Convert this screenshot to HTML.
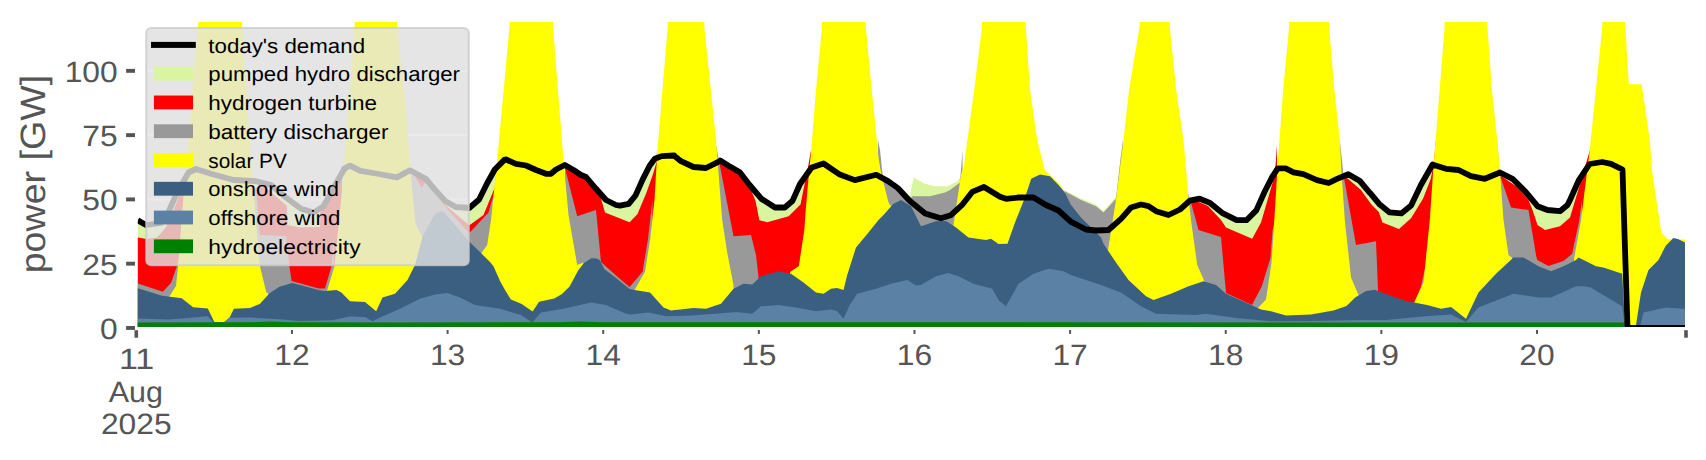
<!DOCTYPE html><html><head><meta charset="utf-8"><style>html,body{margin:0;padding:0;background:#fff;width:1706px;height:460px;overflow:hidden}svg{display:block}text{text-rendering:geometricPrecision}</style></head><body><svg width="1706" height="460" viewBox="0 0 1706 460"><rect x="0" y="0" width="1706" height="460" fill="#ffffff"/><defs><clipPath id="ax"><rect x="137.8" y="21.9" width="1547.2" height="305.1"/></clipPath></defs><rect x="146.2" y="28.1" width="322.6" height="237.1" rx="5" ry="5" fill="#e5e5e5"/><rect x="146.2" y="69.75" width="322.6" height="2.2" fill="#ffffff"/><rect x="146.2" y="133.80" width="322.6" height="2.2" fill="#ffffff"/><rect x="146.2" y="198.30" width="322.6" height="2.2" fill="#ffffff"/><rect x="146.2" y="262.60" width="322.6" height="2.2" fill="#ffffff"/><g clip-path="url(#ax)"><path d="M137.8,340 L137.8,220.4 L146.0,225.0 L161.0,223.0 L168.0,213.0 L176.0,195.0 L188.5,172.5 L196.0,169.0 L211.0,173.8 L233.5,180.0 L256.0,181.2 L271.0,185.0 L286.0,197.5 L301.0,208.8 L313.4,212.6 L323.8,206.1 L334.3,186.5 L344.7,168.3 L350.0,165.7 L360.4,170.9 L376.0,173.5 L396.9,177.4 L410.0,170.3 L426.1,179.1 L434.8,189.6 L445.2,200.9 L455.7,207.0 L469.3,208.0 L479.1,199.5 L487.0,183.5 L494.8,169.5 L504.6,159.6 L506.0,159.5 L516.0,163.8 L526.0,165.5 L536.0,170.0 L546.0,173.8 L551.0,173.8 L556.0,169.5 L564.8,165.0 L573.5,170.0 L581.0,175.0 L586.0,177.0 L596.0,188.8 L606.0,200.0 L616.0,205.0 L620.0,205.7 L628.7,203.9 L635.7,195.2 L642.6,179.6 L649.6,165.7 L654.8,158.7 L661.7,156.1 L674.2,155.5 L674.8,156.2 L681.0,161.2 L693.5,167.0 L706.0,168.0 L719.8,161.2 L720.2,160.5 L728.1,165.4 L739.8,172.3 L749.6,185.0 L761.3,198.7 L775.0,207.5 L784.8,207.5 L792.6,200.7 L800.0,184.0 L811.7,167.4 L823.5,163.5 L839.1,174.2 L854.8,180.1 L876.3,174.8 L888.0,181.1 L897.8,188.0 L909.6,200.7 L925.2,213.4 L940.9,218.3 L950.7,215.3 L962.4,204.6 L972.2,191.9 L984.0,187.0 L1000.0,196.7 L1006.0,198.8 L1018.5,197.5 L1033.5,197.5 L1046.0,205.0 L1058.5,210.5 L1071.0,221.8 L1086.0,229.5 L1096.0,230.5 L1108.5,230.0 L1121.0,218.8 L1131.0,207.5 L1141.0,204.5 L1148.5,206.2 L1156.0,211.2 L1168.5,215.0 L1180.0,209.5 L1189.8,200.7 L1199.6,198.7 L1209.4,202.6 L1223.0,213.4 L1236.7,220.2 L1246.5,220.2 L1256.3,210.4 L1264.1,192.8 L1272.0,177.2 L1277.8,168.4 L1285.7,168.4 L1293.5,172.3 L1303.3,174.2 L1317.0,180.1 L1328.7,183.0 L1336.5,179.1 L1348.3,174.2 L1360.0,181.1 L1369.8,192.8 L1370.0,192.8 L1379.8,204.6 L1389.6,212.4 L1401.3,213.4 L1411.1,205.6 L1420.9,185.0 L1432.6,164.5 L1433.8,165.0 L1446.0,168.8 L1458.5,170.0 L1471.0,176.2 L1484.8,178.8 L1500.0,172.5 L1512.5,178.8 L1525.0,191.2 L1537.5,206.2 L1547.5,210.0 L1560.0,211.2 L1567.5,205.0 L1570.0,200.0 L1578.7,180.4 L1589.6,164.0 L1602.2,162.0 L1611.0,163.8 L1622.5,169.5 L1624.0,327.0 L1624.0,340 Z" fill="#d9f59f"/><path d="M905.0,340 L905.0,205.0 L910.0,195.0 L913.8,177.5 L925.0,183.8 L935.0,186.2 L947.5,186.2 L957.5,181.2 L962.5,173.8 L963.0,150.0 L963.0,340 Z" fill="#d9f59f"/><path d="M1064.0,340 L1064.0,190.0 L1081.0,198.5 L1096.0,204.8 L1103.5,211.0 L1116.0,197.0 L1121.0,154.0 L1121.0,340 Z" fill="#d9f59f"/><path d="M136.0,340 L136.0,237.0 L146.4,239.0 L156.9,237.4 L165.6,227.8 L173.4,210.4 L177.7,200.0 L182.0,180.0 L184.8,175.0 L184.8,340 Z" fill="#ff0000"/><path d="M255.0,340 L255.0,190.0 L260.0,183.0 L272.0,193.0 L287.0,206.0 L287.5,225.0 L300.0,227.5 L320.0,227.0 L320.5,205.0 L330.0,190.0 L340.0,172.0 L342.0,165.0 L342.0,340 Z" fill="#ff0000"/><path d="M408.0,340 L408.0,160.0 L410.4,175.7 L414.8,175.7 L426.1,180.9 L434.8,192.0 L445.2,204.9 L468.6,224.7 L469.8,225.0 L483.5,215.0 L494.8,187.5 L497.2,165.0 L497.2,340 Z" fill="#ff0000"/><path d="M565.0,340 L565.0,168.0 L590.0,180.0 L600.0,195.0 L605.0,212.5 L629.6,222.2 L637.4,214.3 L646.1,193.5 L653.0,174.3 L656.5,162.2 L657.0,150.0 L657.0,340 Z" fill="#ff0000"/><path d="M719.8,340 L719.8,162.0 L741.0,176.0 L751.0,190.0 L755.5,200.7 L759.4,220.2 L767.2,222.2 L788.7,216.3 L800.5,204.6 L808.3,165.4 L811.0,150.0 L811.0,340 Z" fill="#ff0000"/><path d="M1186.0,340 L1186.0,200.0 L1188.5,197.5 L1208.0,206.0 L1221.0,220.0 L1226.0,227.5 L1252.2,238.8 L1261.0,222.5 L1274.8,175.0 L1277.0,145.0 L1277.0,340 Z" fill="#ff0000"/><path d="M1343.5,340 L1343.5,175.0 L1361.0,190.0 L1371.0,204.0 L1378.8,212.0 L1382.5,222.5 L1399.0,229.0 L1411.0,218.3 L1423.0,198.7 L1430.7,179.1 L1433.5,165.0 L1436.0,140.0 L1436.0,340 Z" fill="#ff0000"/><path d="M1499.8,340 L1499.8,175.0 L1518.5,188.0 L1528.5,200.0 L1532.5,210.0 L1537.5,225.0 L1545.0,230.0 L1560.0,226.2 L1570.0,217.5 L1577.5,192.5 L1584.0,170.0 L1590.0,150.0 L1590.0,340 Z" fill="#ff0000"/><path d="M136.0,340 L136.0,283.0 L162.9,291.7 L171.1,282.7 L176.8,266.4 L184.5,235.0 L186.0,185.0 L186.0,340 Z" fill="#999999"/><path d="M252.0,340 L252.0,185.0 L256.3,192.5 L260.0,235.0 L286.3,236.3 L289.2,265.0 L291.6,281.1 L318.5,288.4 L325.0,288.5 L331.6,266.0 L334.0,240.0 L334.0,340 Z" fill="#999999"/><path d="M408.0,340 L408.0,160.0 L410.4,175.7 L414.8,175.7 L421.7,187.8 L426.1,180.9 L434.8,192.0 L445.2,206.4 L468.6,232.5 L469.8,232.5 L488.5,212.5 L495.0,190.0 L495.0,340 Z" fill="#999999"/><path d="M565.0,340 L565.0,168.0 L577.2,216.2 L596.0,210.0 L601.0,262.0 L616.0,275.5 L626.0,284.0 L629.6,287.0 L642.6,271.7 L648.0,239.0 L652.4,200.0 L652.4,340 Z" fill="#999999"/><path d="M716.0,340 L716.0,145.0 L719.8,165.0 L733.5,236.2 L751.0,235.0 L756.0,255.0 L758.5,277.0 L758.5,340 Z" fill="#999999"/><path d="M878.0,340 L878.0,140.0 L880.0,150.0 L883.0,178.0 L897.5,189.0 L910.0,199.0 L912.5,196.2 L930.0,196.2 L945.0,192.5 L950.0,190.0 L960.0,182.5 L962.5,150.0 L962.5,340 Z" fill="#999999"/><path d="M1058.0,340 L1058.0,185.0 L1064.8,191.2 L1081.0,200.0 L1096.0,206.2 L1103.5,212.5 L1116.0,198.8 L1121.0,155.0 L1123.0,140.0 L1123.0,340 Z" fill="#999999"/><path d="M1187.0,340 L1187.0,190.0 L1191.0,202.5 L1198.5,230.0 L1218.5,236.2 L1221.0,237.0 L1226.0,293.0 L1252.0,305.0 L1261.7,286.5 L1270.4,258.3 L1272.6,230.0 L1275.0,220.0 L1275.0,340 Z" fill="#999999"/><path d="M1339.8,340 L1339.8,140.0 L1343.5,175.0 L1356.0,245.0 L1376.0,241.2 L1378.0,289.0 L1378.0,340 Z" fill="#999999"/><path d="M1415.0,340 L1415.0,300.7 L1420.4,288.7 L1425.9,264.8 L1427.4,243.0 L1427.4,340 Z" fill="#999999"/><path d="M1497.2,340 L1497.2,140.0 L1499.8,175.0 L1511.0,207.5 L1528.5,210.0 L1536.0,255.0 L1537.2,260.0 L1548.5,266.0 L1563.5,261.0 L1572.0,254.0 L1579.0,222.0 L1582.0,200.0 L1582.0,340 Z" fill="#999999"/><path d="M169.4,340 L169.4,296.6 L176.0,286.0 L178.1,266.4 L184.7,180.0 L198.0,27.0 L199.0,15.0 L242.0,15.0 L242.3,27.0 L252.6,180.0 L259.8,265.6 L266.3,292.5 L268.0,293.0 L268.0,340 Z" fill="#ffff00"/><path d="M327.0,340 L327.0,291.0 L334.5,265.7 L343.0,180.0 L354.6,27.0 L355.0,15.0 L397.0,15.0 L397.0,27.0 L407.0,120.0 L409.0,150.0 L410.5,172.6 L415.5,224.0 L422.3,236.5 L422.3,340 Z" fill="#ffff00"/><path d="M481.0,340 L481.0,253.8 L487.2,245.0 L491.0,220.0 L497.3,159.0 L509.5,27.0 L509.5,15.0 L553.0,15.0 L553.0,27.0 L563.4,159.0 L568.5,215.0 L577.2,265.0 L583.5,262.5 L583.5,340 Z" fill="#ffff00"/><path d="M634.0,340 L634.0,291.0 L645.0,271.7 L650.2,239.0 L654.5,200.0 L657.3,152.0 L667.7,27.0 L667.7,15.0 L704.3,15.0 L704.3,27.0 L716.0,140.0 L722.2,220.0 L727.2,252.5 L733.5,285.0 L733.5,340 Z" fill="#ffff00"/><path d="M790.0,340 L790.0,272.0 L798.9,265.9 L804.3,230.0 L805.5,212.5 L808.8,175.0 L811.2,150.0 L816.1,89.6 L822.0,27.0 L822.0,15.0 L865.8,15.0 L865.8,27.0 L871.7,89.6 L878.7,159.0 L881.0,172.5 L888.5,202.5 L893.5,210.0 L893.5,340 Z" fill="#ffff00"/><path d="M953.0,340 L953.0,228.0 L961.0,175.0 L963.9,166.0 L974.3,89.6 L982.0,27.0 L982.0,15.0 L1025.8,15.0 L1025.8,27.0 L1030.0,89.6 L1037.2,140.0 L1044.8,170.0 L1058.5,183.0 L1065.0,192.0 L1065.0,340 Z" fill="#ffff00"/><path d="M1108.0,340 L1108.0,250.0 L1116.0,200.0 L1123.5,140.0 L1129.1,89.6 L1139.6,27.0 L1139.6,15.0 L1169.8,15.0 L1169.8,27.0 L1176.1,89.6 L1183.5,140.0 L1188.5,197.5 L1191.0,220.0 L1197.2,265.0 L1204.8,282.0 L1204.8,340 Z" fill="#ffff00"/><path d="M1256.0,340 L1256.0,310.0 L1266.0,299.6 L1271.5,262.6 L1273.7,230.0 L1278.0,160.0 L1283.2,89.6 L1289.1,27.0 L1289.1,15.0 L1329.1,15.0 L1329.1,27.0 L1334.3,89.6 L1339.8,140.0 L1341.5,172.0 L1344.8,220.0 L1351.0,277.5 L1358.5,295.0 L1358.5,340 Z" fill="#ffff00"/><path d="M1414.0,340 L1414.0,303.0 L1423.5,282.5 L1429.8,220.0 L1433.5,166.0 L1439.7,89.6 L1444.6,27.0 L1444.6,15.0 L1487.4,15.0 L1487.4,27.0 L1491.9,89.6 L1497.2,140.0 L1500.0,172.0 L1503.5,220.0 L1508.5,255.0 L1512.2,258.0 L1512.2,340 Z" fill="#ffff00"/><path d="M1574.0,340 L1574.0,259.0 L1581.0,220.0 L1589.5,152.2 L1602.3,27.0 L1602.3,15.0 L1625.3,15.0 L1625.3,27.0 L1628.8,84.3 L1641.6,84.3 L1649.8,140.0 L1652.2,172.5 L1659.8,222.5 L1661.3,232.6 L1667.8,239.5 L1700.0,239.5 L1700.0,340 Z" fill="#ffff00"/><path d="M136.0,340 L136.0,287.6 L162.1,295.8 L181.7,298.2 L193.1,307.2 L207.8,308.5 L214.3,321.9 L227.4,321.9 L233.9,308.8 L250.0,308.0 L259.8,304.0 L269.6,293.3 L279.4,286.8 L292.4,283.0 L303.8,286.0 L318.5,290.0 L325.0,290.9 L336.5,290.0 L341.4,292.5 L350.0,301.2 L365.0,302.0 L376.2,311.2 L382.5,297.5 L395.0,293.8 L407.5,280.0 L415.0,265.0 L422.6,236.5 L434.8,213.9 L441.7,211.3 L445.0,213.3 L468.6,241.0 L481.5,253.6 L490.0,262.0 L493.5,266.2 L500.0,281.0 L505.0,290.0 L510.9,299.6 L521.7,303.9 L532.6,311.5 L539.1,301.7 L554.3,298.5 L562.0,294.0 L569.6,286.5 L578.3,270.2 L584.0,263.0 L591.3,258.3 L597.0,258.5 L600.0,260.4 L604.3,269.1 L616.0,278.0 L629.6,289.0 L636.0,290.2 L650.0,292.5 L663.5,307.5 L671.0,310.5 L693.5,308.0 L706.0,308.8 L721.0,303.8 L733.5,288.8 L743.5,283.8 L752.2,284.5 L761.0,276.2 L778.5,271.2 L791.0,273.8 L803.5,282.5 L816.0,292.5 L823.5,293.8 L831.0,288.8 L837.0,288.0 L843.5,290.0 L847.2,275.0 L856.0,247.5 L868.5,232.5 L878.5,220.0 L883.5,215.0 L893.5,203.8 L901.0,200.0 L911.0,206.2 L921.0,226.2 L936.0,221.2 L946.0,221.0 L956.0,227.5 L968.5,237.5 L986.0,240.0 L991.0,238.8 L998.5,244.0 L1007.5,243.8 L1015.0,222.5 L1025.0,197.5 L1031.2,178.8 L1040.0,174.5 L1050.0,176.2 L1058.5,185.0 L1064.8,192.5 L1071.0,205.0 L1081.0,217.5 L1091.0,227.5 L1101.0,237.5 L1103.5,243.8 L1116.0,262.5 L1128.5,280.0 L1146.0,296.2 L1153.5,300.0 L1171.0,293.8 L1188.5,286.2 L1203.5,281.2 L1216.0,285.0 L1226.0,293.8 L1251.0,305.0 L1261.0,309.5 L1271.0,311.2 L1286.0,315.5 L1311.0,314.5 L1333.5,310.4 L1346.5,306.1 L1355.2,297.4 L1366.1,290.9 L1374.8,289.8 L1383.5,293.0 L1405.2,300.7 L1427.0,305.0 L1441.0,308.8 L1451.0,307.0 L1466.0,318.8 L1478.5,292.5 L1496.0,273.8 L1513.5,257.5 L1523.5,257.5 L1538.5,266.2 L1551.0,271.2 L1563.5,266.2 L1576.0,260.0 L1578.5,257.5 L1588.5,262.5 L1596.0,266.2 L1603.5,267.5 L1622.2,273.8 L1625.0,327.0 L1633.0,327.0 L1636.0,325.0 L1641.0,292.5 L1648.5,270.0 L1658.5,260.0 L1665.7,245.7 L1673.3,238.0 L1678.0,239.0 L1684.0,242.0 L1700.0,246.0 L1700.0,340 Z" fill="#3b5f80"/><path d="M136.0,340 L136.0,318.6 L168.6,319.4 L181.7,318.6 L207.8,316.2 L213.5,322.7 L224.0,321.9 L229.0,317.8 L250.0,317.5 L282.6,319.4 L299.0,321.0 L331.6,320.3 L350.0,316.5 L365.0,317.0 L372.5,321.2 L380.0,317.5 L400.0,308.8 L420.0,298.8 L435.0,294.5 L447.5,293.0 L460.0,297.5 L475.0,305.0 L500.0,308.8 L521.0,315.0 L532.2,322.5 L541.0,312.5 L563.5,308.8 L591.0,302.5 L606.0,305.0 L626.0,313.8 L631.0,314.5 L648.5,312.5 L666.0,316.2 L691.0,315.5 L716.0,313.8 L736.0,312.0 L752.2,313.8 L761.0,306.2 L778.5,305.0 L796.0,307.5 L816.0,311.2 L831.0,309.5 L837.0,311.0 L843.5,318.8 L849.8,305.0 L857.2,293.8 L876.0,288.8 L891.0,283.8 L907.2,280.0 L916.0,285.5 L921.0,285.0 L936.0,276.2 L948.5,273.0 L958.5,276.2 L973.5,283.8 L992.2,288.8 L998.5,300.0 L1006.0,306.2 L1018.5,283.8 L1033.5,273.8 L1048.5,268.8 L1063.5,271.2 L1071.0,275.0 L1101.0,285.0 L1121.0,292.5 L1141.0,306.2 L1156.0,313.8 L1196.0,315.0 L1206.0,313.8 L1236.0,318.0 L1271.0,321.2 L1311.0,321.0 L1336.0,320.5 L1361.0,320.0 L1386.0,320.0 L1426.0,316.2 L1451.0,314.5 L1466.0,322.0 L1478.5,307.5 L1513.5,293.8 L1538.5,297.5 L1551.0,297.5 L1576.0,286.2 L1583.5,286.2 L1591.0,287.5 L1601.0,293.8 L1622.2,306.2 L1625.0,327.0 L1640.0,327.0 L1643.5,312.5 L1666.0,307.5 L1700.0,310.0 L1700.0,340 Z" fill="#5b82a5"/><path d="M136.0,340 L136.0,322.5 L250.0,322.3 L270.0,321.6 L290.0,322.3 L400.0,322.5 L560.0,322.3 L580.0,321.6 L600.0,322.3 L700.0,322.3 L1000.0,322.3 L1624.5,322.5 L1625.0,340.0 L1625.0,340 Z" fill="#008000"/><polyline points="137.8,220.4 146.0,225.0 161.0,223.0 168.0,213.0 176.0,195.0 188.5,172.5 196.0,169.0 211.0,173.8 233.5,180.0 256.0,181.2 271.0,185.0 286.0,197.5 301.0,208.8 313.4,212.6 323.8,206.1 334.3,186.5 344.7,168.3 350.0,165.7 360.4,170.9 376.0,173.5 396.9,177.4 410.0,170.3 426.1,179.1 434.8,189.6 445.2,200.9 455.7,207.0 469.3,208.0 479.1,199.5 487.0,183.5 494.8,169.5 504.6,159.6 506.0,159.5 516.0,163.8 526.0,165.5 536.0,170.0 546.0,173.8 551.0,173.8 556.0,169.5 564.8,165.0 573.5,170.0 581.0,175.0 586.0,177.0 596.0,188.8 606.0,200.0 616.0,205.0 620.0,205.7 628.7,203.9 635.7,195.2 642.6,179.6 649.6,165.7 654.8,158.7 661.7,156.1 674.2,155.5 674.8,156.2 681.0,161.2 693.5,167.0 706.0,168.0 719.8,161.2 720.2,160.5 728.1,165.4 739.8,172.3 749.6,185.0 761.3,198.7 775.0,207.5 784.8,207.5 792.6,200.7 800.0,184.0 811.7,167.4 823.5,163.5 839.1,174.2 854.8,180.1 876.3,174.8 888.0,181.1 897.8,188.0 909.6,200.7 925.2,213.4 940.9,218.3 950.7,215.3 962.4,204.6 972.2,191.9 984.0,187.0 1000.0,196.7 1006.0,198.8 1018.5,197.5 1033.5,197.5 1046.0,205.0 1058.5,210.5 1071.0,221.8 1086.0,229.5 1096.0,230.5 1108.5,230.0 1121.0,218.8 1131.0,207.5 1141.0,204.5 1148.5,206.2 1156.0,211.2 1168.5,215.0 1180.0,209.5 1189.8,200.7 1199.6,198.7 1209.4,202.6 1223.0,213.4 1236.7,220.2 1246.5,220.2 1256.3,210.4 1264.1,192.8 1272.0,177.2 1277.8,168.4 1285.7,168.4 1293.5,172.3 1303.3,174.2 1317.0,180.1 1328.7,183.0 1336.5,179.1 1348.3,174.2 1360.0,181.1 1369.8,192.8 1370.0,192.8 1379.8,204.6 1389.6,212.4 1401.3,213.4 1411.1,205.6 1420.9,185.0 1432.6,164.5 1433.8,165.0 1446.0,168.8 1458.5,170.0 1471.0,176.2 1484.8,178.8 1500.0,172.5 1512.5,178.8 1525.0,191.2 1537.5,206.2 1547.5,210.0 1560.0,211.2 1567.5,205.0 1570.0,200.0 1578.7,180.4 1589.6,164.0 1602.2,162.0 1611.0,163.8 1622.5,169.5 1627.5,327.9 1700.0,327.9" fill="none" stroke="#000" stroke-width="5.8" stroke-linejoin="round"/></g><rect x="126.1" y="326.00" width="8.9" height="3.9" fill="#555555"/><text x="117.7" y="338.90" font-family="Liberation Sans" font-size="29.4" fill="#555555" text-anchor="end" textLength="17.67" lengthAdjust="spacingAndGlyphs">0</text><rect x="126.1" y="261.72" width="8.9" height="3.9" fill="#555555"/><text x="117.7" y="274.62" font-family="Liberation Sans" font-size="29.4" fill="#555555" text-anchor="end" textLength="35.35" lengthAdjust="spacingAndGlyphs">25</text><rect x="126.1" y="197.45" width="8.9" height="3.9" fill="#555555"/><text x="117.7" y="210.35" font-family="Liberation Sans" font-size="29.4" fill="#555555" text-anchor="end" textLength="35.35" lengthAdjust="spacingAndGlyphs">50</text><rect x="126.1" y="133.17" width="8.9" height="3.9" fill="#555555"/><text x="117.7" y="146.07" font-family="Liberation Sans" font-size="29.4" fill="#555555" text-anchor="end" textLength="35.35" lengthAdjust="spacingAndGlyphs">75</text><rect x="126.1" y="68.90" width="8.9" height="3.9" fill="#555555"/><text x="117.7" y="81.80" font-family="Liberation Sans" font-size="29.4" fill="#555555" text-anchor="end" textLength="53.02" lengthAdjust="spacingAndGlyphs">100</text><rect x="134.5" y="330.2" width="3.6" height="7.5" fill="#555555"/><rect x="1684.2" y="330.2" width="3.6" height="7.5" fill="#555555"/><rect x="290.96" y="330" width="2" height="3.9" fill="#555555"/><text x="291.96" y="364.9" font-family="Liberation Sans" font-size="29.4" fill="#555555" text-anchor="middle" textLength="35.35" lengthAdjust="spacingAndGlyphs">12</text><rect x="446.59" y="330" width="2" height="3.9" fill="#555555"/><text x="447.59" y="364.9" font-family="Liberation Sans" font-size="29.4" fill="#555555" text-anchor="middle" textLength="35.35" lengthAdjust="spacingAndGlyphs">13</text><rect x="602.22" y="330" width="2" height="3.9" fill="#555555"/><text x="603.22" y="364.9" font-family="Liberation Sans" font-size="29.4" fill="#555555" text-anchor="middle" textLength="35.35" lengthAdjust="spacingAndGlyphs">14</text><rect x="757.85" y="330" width="2" height="3.9" fill="#555555"/><text x="758.85" y="364.9" font-family="Liberation Sans" font-size="29.4" fill="#555555" text-anchor="middle" textLength="35.35" lengthAdjust="spacingAndGlyphs">15</text><rect x="913.48" y="330" width="2" height="3.9" fill="#555555"/><text x="914.48" y="364.9" font-family="Liberation Sans" font-size="29.4" fill="#555555" text-anchor="middle" textLength="35.35" lengthAdjust="spacingAndGlyphs">16</text><rect x="1069.11" y="330" width="2" height="3.9" fill="#555555"/><text x="1070.11" y="364.9" font-family="Liberation Sans" font-size="29.4" fill="#555555" text-anchor="middle" textLength="35.35" lengthAdjust="spacingAndGlyphs">17</text><rect x="1224.74" y="330" width="2" height="3.9" fill="#555555"/><text x="1225.74" y="364.9" font-family="Liberation Sans" font-size="29.4" fill="#555555" text-anchor="middle" textLength="35.35" lengthAdjust="spacingAndGlyphs">18</text><rect x="1380.37" y="330" width="2" height="3.9" fill="#555555"/><text x="1381.37" y="364.9" font-family="Liberation Sans" font-size="29.4" fill="#555555" text-anchor="middle" textLength="35.35" lengthAdjust="spacingAndGlyphs">19</text><rect x="1536.00" y="330" width="2" height="3.9" fill="#555555"/><text x="1537.00" y="364.9" font-family="Liberation Sans" font-size="29.4" fill="#555555" text-anchor="middle" textLength="35.35" lengthAdjust="spacingAndGlyphs">20</text><text x="136.6" y="369.3" font-family="Liberation Sans" font-size="29.4" fill="#555555" text-anchor="middle" textLength="35.35" lengthAdjust="spacingAndGlyphs">11</text><text x="135.9" y="401.6" font-family="Liberation Sans" font-size="29.4" fill="#555555" text-anchor="middle" textLength="54.24" lengthAdjust="spacingAndGlyphs">Aug</text><text x="136.3" y="433.9" font-family="Liberation Sans" font-size="29.4" fill="#555555" text-anchor="middle" textLength="70.70" lengthAdjust="spacingAndGlyphs">2025</text><text transform="translate(44.7,174.1) rotate(-90)" x="0" y="0" font-family="Liberation Sans" font-size="35.2" fill="#555555" text-anchor="middle" textLength="198.40" lengthAdjust="spacingAndGlyphs">power [GW]</text><rect x="146.2" y="28.1" width="322.6" height="237.1" rx="5" ry="5" fill="#e5e5e5" fill-opacity="0.8" stroke="#cccccc" stroke-opacity="0.8" stroke-width="2"/><rect x="151" y="41.90" width="44.8" height="6" fill="#000000"/><text x="208.3" y="52.60" font-family="Liberation Sans" font-size="20.6" fill="#000000" textLength="156.74" lengthAdjust="spacingAndGlyphs">today&#39;s demand</text><rect x="153.9" y="66.77" width="39.1" height="13.8" fill="#d9f59f"/><text x="208.3" y="81.37" font-family="Liberation Sans" font-size="20.6" fill="#000000" textLength="251.72" lengthAdjust="spacingAndGlyphs">pumped hydro discharger</text><rect x="153.9" y="95.54" width="39.1" height="13.8" fill="#ff0000"/><text x="208.3" y="110.14" font-family="Liberation Sans" font-size="20.6" fill="#000000" textLength="168.81" lengthAdjust="spacingAndGlyphs">hydrogen turbine</text><rect x="153.9" y="124.31" width="39.1" height="13.8" fill="#999999"/><text x="208.3" y="138.91" font-family="Liberation Sans" font-size="20.6" fill="#000000" textLength="180.21" lengthAdjust="spacingAndGlyphs">battery discharger</text><rect x="153.9" y="153.08" width="39.1" height="13.8" fill="#ffff00"/><text x="208.3" y="167.68" font-family="Liberation Sans" font-size="20.6" fill="#000000" textLength="78.53" lengthAdjust="spacingAndGlyphs">solar PV</text><rect x="153.9" y="181.85" width="39.1" height="13.8" fill="#3b5f80"/><text x="208.3" y="196.45" font-family="Liberation Sans" font-size="20.6" fill="#000000" textLength="130.65" lengthAdjust="spacingAndGlyphs">onshore wind</text><rect x="153.9" y="210.62" width="39.1" height="13.8" fill="#5b82a5"/><text x="208.3" y="225.22" font-family="Liberation Sans" font-size="20.6" fill="#000000" textLength="132.02" lengthAdjust="spacingAndGlyphs">offshore wind</text><rect x="153.9" y="239.39" width="39.1" height="13.8" fill="#008000"/><text x="208.3" y="253.99" font-family="Liberation Sans" font-size="20.6" fill="#000000" textLength="152.29" lengthAdjust="spacingAndGlyphs">hydroelectricity</text></svg></body></html>
